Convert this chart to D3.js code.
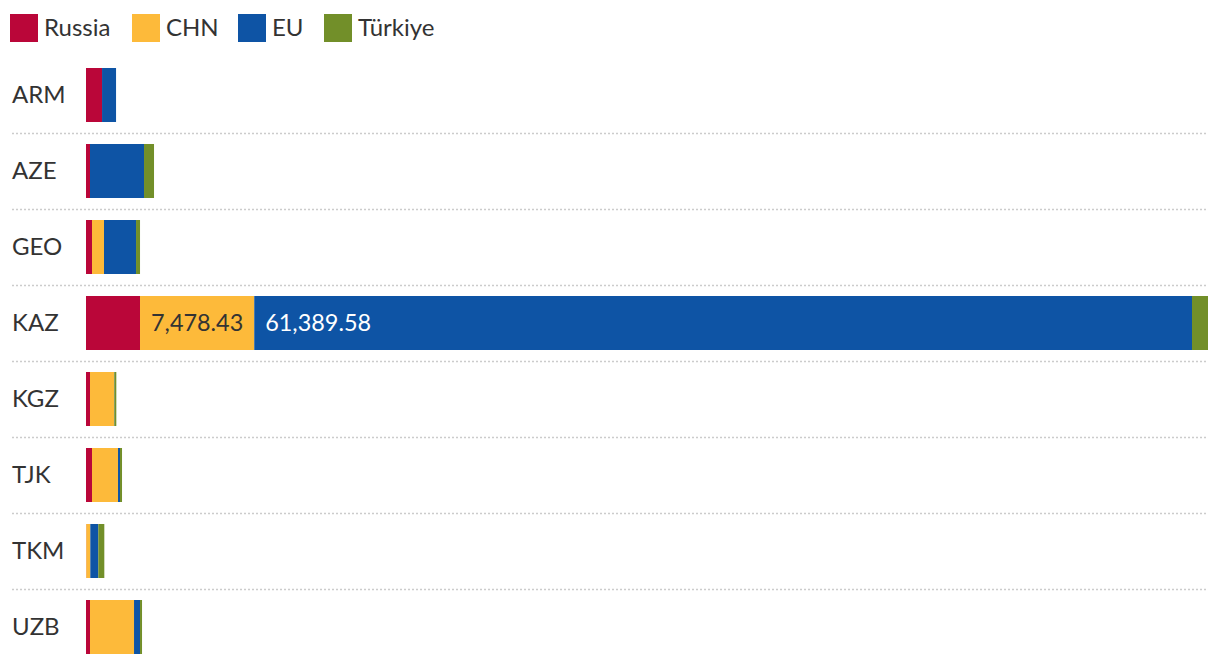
<!DOCTYPE html>
<html>
<head>
<meta charset="utf-8">
<script src="https://cdn.jsdelivr.net/npm/d3@7"></script>
<style>
  html, body { margin: 0; padding: 0; background: #fff; }
  svg { display: block; font-family: Lato, "Open Sans", sans-serif; }
</style>
</head>
<body>
<svg id="chart" width="1220" height="666"></svg>
<script>
const categories = ["ARM", "AZE", "GEO", "KAZ", "KGZ", "TJK", "TKM", "UZB"];
const seriesNames = ["Russia", "CHN", "EU", "Türkiye"];
const seriesColors = ["#BA0639", "#FDBA3A", "#0E54A5", "#728F29"];
const russia  = [1050, 262, 393, 3536, 262, 393, 20, 262];
const chn     = [0, 0, 786, 7478.43, 1572, 1703, 262, 2882];
const eu      = [917, 3536, 2096, 61389.58, 20, 131, 524, 393];
const turkiye = [0, 655, 262, 1048, 131, 131, 393, 131];
const labelledValues = [{cat: "KAZ", series: "CHN"}, {cat: "KAZ", series: "EU"}];

const svg = d3.select("#chart");

const rows = categories.map((c, i) => ({
  cat: c, Russia: russia[i], CHN: chn[i], EU: eu[i], "Türkiye": turkiye[i]
}));
const stack = d3.stack().keys(seriesNames)(rows);
const maxTotal = d3.max(rows, r => seriesNames.reduce((s, k) => s + r[k], 0));

const x = d3.scaleLinear().domain([0, maxTotal]).range([86, 1208]);
const y = d3.scaleBand().domain(categories).range([57, 665]).paddingInner(22/76).paddingOuter(11/76);
const color = d3.scaleOrdinal().domain(seriesNames).range(seriesColors);
const step = y.step();

// separators
svg.append("g").selectAll("line")
  .data(categories.slice(1))
  .join("line")
  .attr("x1", 12).attr("x2", 1208)
  .attr("y1", d => Math.round(y(d) - (step - y.bandwidth()) / 2) + 0.5)
  .attr("y2", d => Math.round(y(d) - (step - y.bandwidth()) / 2) + 0.5)
  .attr("stroke", "#cccccc").attr("stroke-width", 1.5)
  .attr("stroke-dasharray", "2,2");

// bars
svg.append("g").selectAll("g")
  .data(stack)
  .join("g")
  .attr("fill", d => color(d.key))
  .selectAll("rect")
  .data(d => d)
  .join("rect")
  .attr("x", d => x(d[0]))
  .attr("width", d => Math.max(0, x(d[1]) - x(d[0])))
  .attr("y", d => y(d.data.cat))
  .attr("height", y.bandwidth());

// category labels
svg.append("g").selectAll("text")
  .data(categories)
  .join("text")
  .attr("x", 12)
  .attr("y", d => y(d) + y.bandwidth() / 2)
  .attr("dy", "0.35em")
  .attr("fill", "#333")
  .attr("font-size", 24)
  .text(d => d);

// value labels
const fmt = d3.format(",.2f");
labelledValues.forEach(lv => {
  const s = stack.find(s => s.key === lv.series);
  const seg = s.find(d => d.data.cat === lv.cat);
  svg.append("text")
    .attr("x", x(seg[0]) + 11)
    .attr("y", y(lv.cat) + y.bandwidth() / 2)
    .attr("dy", "0.35em")
    .attr("font-size", 23.4)
    .attr("fill", lv.series === "EU" ? "#fff" : "#333")
    .text(fmt(seg.data[lv.series]));
});

// legend
const legendX = [10, 132, 238, 324];
const lg = svg.append("g").selectAll("g")
  .data(seriesNames)
  .join("g")
  .attr("transform", (d, i) => `translate(${legendX[i]},14)`);
lg.append("rect").attr("width", 28).attr("height", 28).attr("fill", d => color(d));
lg.append("text").attr("x", 34).attr("y", 14).attr("dy", "0.35em")
  .attr("font-size", 24).attr("fill", "#333").text(d => d);
</script>
</body>
</html>
